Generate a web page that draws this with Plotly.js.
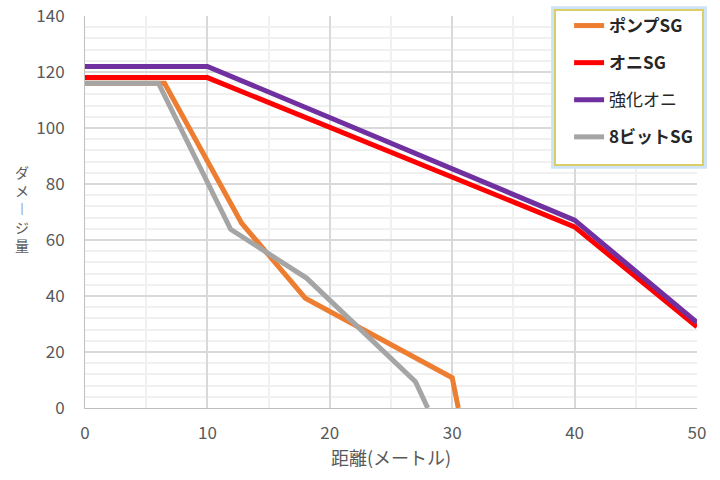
<!DOCTYPE html>
<html>
<head>
<meta charset="utf-8">
<script src="https://cdn.plot.ly/plotly-3.0.1.min.js"></script>
<style>
  html, body { margin: 0; padding: 0; background: #fff; }
  #chart { width: 720px; height: 480px; }
</style>
</head>
<body>
<div id="chart"></div>
<script>
// distances (m) and damage for each shotgun
const pumpX = [0, 6.5, 12.8, 18, 30, 30.5];
const pumpY = [116, 116, 66, 39.2, 10.8, 0];

const oniX = [0, 10, 40, 50];
const oniY = [118, 118, 64.7, 29];

const kyoukaX = [0, 10, 40, 50];
const kyoukaY = [122, 122, 67.1, 30.5];

const bitX = [0, 6, 11.9, 18.1, 27, 28];
const bitY = [116, 116, 63.8, 46.4, 9.4, 0];

const seriesNames = ['ポンプSG', 'オニSG', '強化オニ', '8ビットSG'];
const seriesColors = ['#ED7D31', '#FF0000', '#7030A0', '#A5A5A5'];

const xTitle = '距離(メートル)';
const yTitleChars = ['ダ', 'メ', '︱', 'ジ', '量'];

const FONT = "'Noto Sans CJK JP', 'Noto Sans', sans-serif";

const xs = [pumpX, oniX, kyoukaX, bitX];
const ys = [pumpY, oniY, kyoukaY, bitY];

const data = seriesNames.map((name, i) => ({
    x: xs[i],
    y: ys[i],
    type: 'scatter',
    mode: 'lines',
    name: name === '強化オニ' ? name : '<b>' + name + '</b>',
    legendgroup: 'g' + i,
    line: { color: seriesColors[i], width: 5 },
    hoverinfo: 'skip',
}));

// legend frame drawn as shapes so its size matches the original box
const frame = { x0: 0.768, x1: 1.0098, y0: 0.620, y1: 1.0153 };

const layout = {
    width: 720,
    height: 480,
    margin: { l: 85, r: 23, t: 16, b: 72, autoexpand: false },
    paper_bgcolor: '#ffffff',
    plot_bgcolor: '#ffffff',
    font: { family: FONT, color: '#595959', size: 15 },
    showlegend: true,
    legend: {
        x: 0.791,
        y: 1.0204,
        xanchor: 'left',
        yanchor: 'top',
        bgcolor: 'rgba(0,0,0,0)',
        borderwidth: 0,
        traceorder: 'grouped',
        tracegroupgap: 12,
        itemwidth: 30,
        font: { family: FONT, size: 17, color: '#262626' },
    },
    shapes: [
        {
            type: 'rect', xref: 'paper', yref: 'paper', layer: 'above',
            x0: frame.x0 - 0.004, x1: frame.x1 + 0.004,
            y0: frame.y0 - 0.006, y1: frame.y1 + 0.006,
            line: { color: '#CFE3F7', width: 3 },
            fillcolor: 'rgba(0,0,0,0)',
        },
        {
            type: 'rect', xref: 'paper', yref: 'paper', layer: 'above',
            x0: frame.x0, x1: frame.x1, y0: frame.y0, y1: frame.y1,
            line: { color: '#D9CE6A', width: 2 },
            fillcolor: '#ffffff',
        },
    ],
    xaxis: {
        range: [0, 50],
        dtick: 10,
        tick0: 0,
        showgrid: true,
        gridcolor: '#D9D9D9',
        gridwidth: 2,
        zeroline: false,
        showline: true,
        linecolor: '#BFBFBF',
        linewidth: 1,
        ticks: '',
        ticklabelstandoff: 10,
        tickfont: { size: 17, color: '#595959' },
        minor: { dtick: 5, showgrid: true, gridcolor: '#F0F0F0', gridwidth: 2 },
        title: { text: xTitle, font: { size: 18, color: '#595959' }, standoff: 8 },
        fixedrange: true,
    },
    yaxis: {
        range: [0, 140],
        dtick: 20,
        tick0: 0,
        showgrid: true,
        gridcolor: '#D9D9D9',
        gridwidth: 2,
        zeroline: false,
        showline: true,
        linecolor: '#BFBFBF',
        linewidth: 1,
        ticks: '',
        ticklabelstandoff: 16,
        tickfont: { size: 17, color: '#595959' },
        minor: { dtick: 4, showgrid: true, gridcolor: '#F0F0F0', gridwidth: 2 },
        fixedrange: true,
    },
    // vertical y title, stacked characters
    annotations: [{
        xref: 'paper',
        yref: 'paper',
        x: -0.103,
        y: 0.51,
        xanchor: 'center',
        yanchor: 'middle',
        showarrow: false,
        text: yTitleChars.join('<br>'),
        font: { size: 14, color: '#595959' },
    }],
};

Plotly.newPlot('chart', data, layout, { displayModeBar: false, staticPlot: true });
</script>
</body>
</html>
